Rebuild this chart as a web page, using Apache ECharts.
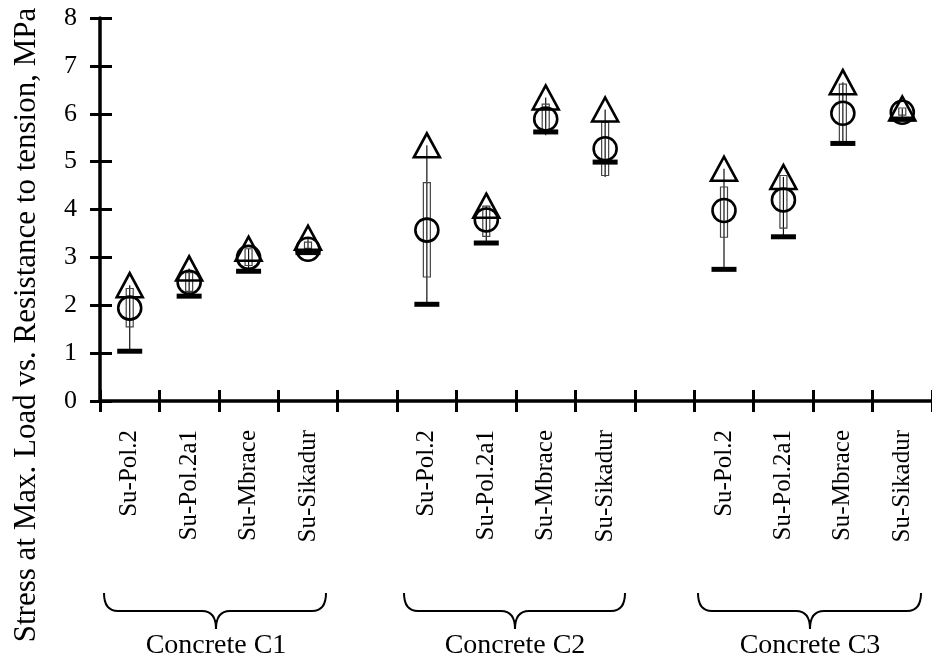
<!DOCTYPE html>
<html>
<head>
<meta charset="utf-8">
<script src="https://cdn.jsdelivr.net/npm/echarts@6/dist/echarts.min.js"></script>
<style>html,body{margin:0;padding:0;background:#fff;}#c{width:932px;height:665px;}</style>
</head>
<body>
<div id="c"></div>
<script>
// ---- data ----
const categories = ['Su-Pol.2','Su-Pol.2a1','Su-Mbrace','Su-Sikadur','',
                    'Su-Pol.2','Su-Pol.2a1','Su-Mbrace','Su-Sikadur','',
                    'Su-Pol.2','Su-Pol.2a1','Su-Mbrace','Su-Sikadur'];
const groupLabels = ['Concrete C1','Concrete C2','Concrete C3'];
const yTicks = [0,1,2,3,4,5,6,7,8];
// triangles: stress at max. load
const stressMaxLoad = [2.42, 2.77, 3.18, 3.41, null, 5.34, 4.08, 6.34, 6.09, null, 4.85, 4.68, 6.66, 6.11];
// circles: resistance to tension
const resistance    = [1.94, 2.48, 3.00, 3.17, null, 3.57, 3.78, 5.89, 5.27, null, 3.98, 4.20, 6.01, 6.03];
// thick horizontal dashes
const minMark       = [1.04, 2.19, 2.71, 3.10, null, 2.02, 3.30, 5.62, 4.99, null, 2.75, 3.43, 5.38, 5.89];
// narrow box
const boxLow        = [1.55, 2.29, 2.83, 3.19, null, 2.59, 3.44, 5.62, 4.71, null, 3.42, 3.61, 5.41, 5.97];
const boxHigh       = [2.35, 2.68, 3.18, 3.32, null, 4.56, 4.07, 6.20, 5.82, null, 4.47, 4.71, 6.62, 6.12];
// thin whisker line
const lineLow       = [1.04, 2.19, 2.71, 3.10, null, 2.02, 3.30, 5.55, 4.68, null, 2.75, 3.43, 5.38, 5.89];
const lineHigh      = [2.42, 2.77, 3.18, 3.41, null, 5.34, 4.08, 6.34, 6.09, null, 4.85, 4.68, 6.66, 6.11];

const FONT = '"Liberation Serif", "DejaVu Serif", serif';
const pairs = arr => arr.map((v,i)=> v==null?null:[i,v]).filter(d=>d);
const whiskerData = [];
categories.forEach((c,i)=>{ if(lineLow[i]!=null) whiskerData.push([i,lineLow[i],lineHigh[i],boxLow[i],boxHigh[i]]); });

const chart = echarts.init(document.getElementById('c'), null, {renderer:'canvas'});

const xAxisBase = {
  type:'category', data:categories, boundaryGap:true, gridIndex:0, position:'bottom'
};
const yAxisBase = {type:'value', min:0, max:8, interval:1, position:'left', splitLine:{show:false}};

function braceGraphic(x0,x1,xc,yTop,yMid,yPt){
  const r=14;
  const st = {fill:'none', stroke:'#000', lineWidth:2};
  return {type:'group', silent:true, children:[
    {type:'bezierCurve', shape:{x1:x0,y1:yTop,cpx1:x0,cpy1:yMid,x2:x0+r,y2:yMid}, style:st},
    {type:'line', shape:{x1:x0+r,y1:yMid,x2:xc-r,y2:yMid}, style:st},
    {type:'bezierCurve', shape:{x1:xc-r,y1:yMid,cpx1:xc,cpy1:yMid,x2:xc,y2:yPt}, style:st},
    {type:'bezierCurve', shape:{x1:xc,y1:yPt,cpx1:xc,cpy1:yMid,x2:xc+r,y2:yMid}, style:st},
    {type:'line', shape:{x1:xc+r,y1:yMid,x2:x1-r,y2:yMid}, style:st},
    {type:'bezierCurve', shape:{x1:x1-r,y1:yMid,cpx1:x1,cpy1:yMid,x2:x1,y2:yTop}, style:st}
  ]};
}
const braces = [[104,326,216],[404,625,515],[698,921,810]];

chart.setOption({
  animation:false,
  backgroundColor:'#fff',
  grid:{left:100, top:18, width:834, bottom:264, containLabel:false},
  xAxis:[
    Object.assign({}, xAxisBase, {
      axisLine:{show:true, lineStyle:{color:'#000', width:3.5}},
      axisTick:{show:true, interval:0, length:11, lineStyle:{color:'#000', width:3}},
      axisLabel:{show:true, interval:0, rotate:90, margin:29, color:'#000', fontFamily:FONT, fontSize:25}
    }),
    Object.assign({}, xAxisBase, {
      axisLine:{show:false},
      axisTick:{show:true, inside:true, interval:0, length:11, lineStyle:{color:'#000', width:3}},
      axisLabel:{show:false}
    })
  ],
  yAxis:[
    Object.assign({}, yAxisBase, {
      axisLine:{show:true, lineStyle:{color:'#000', width:3.5}},
      axisTick:{show:true, length:10, lineStyle:{color:'#000', width:3}},
      axisLabel:{show:true, margin:23, color:'#000', fontFamily:FONT, fontSize:26,
        formatter: v => yTicks.indexOf(v)>=0 ? String(v) : ''}
    }),
    Object.assign({}, yAxisBase, {
      axisLine:{show:false},
      axisTick:{show:true, inside:true, length:12, lineStyle:{color:'#000', width:3}},
      axisLabel:{show:false}
    })
  ],
  series:[
    {
      type:'custom', xAxisIndex:0, yAxisIndex:0, z:1, clip:false,
      encode:{x:0, y:[1,2,3,4]},
      data: whiskerData,
      renderItem:(params, api)=>{
        const i = api.value(0);
        const pLo = api.coord([i, api.value(1)]);
        const pHi = api.coord([i, api.value(2)]);
        const bLo = api.coord([i, api.value(3)]);
        const bHi = api.coord([i, api.value(4)]);
        const x = pLo[0], w = 7;
        return {type:'group', children:[
          {type:'line', shape:{x1:x, y1:pLo[1], x2:x, y2:pHi[1]}, style:{stroke:'#111', lineWidth:1.2}},
          {type:'rect', shape:{x:x-w/2, y:bHi[1], width:w, height:bLo[1]-bHi[1]},
           style:{fill:'rgba(255,255,255,0)', stroke:'#444', lineWidth:1.2}}
        ]};
      }
    },
    {
      type:'scatter', name:'Resistance to tension', xAxisIndex:0, yAxisIndex:0, z:2,
      data: pairs(resistance), symbol:'circle', symbolSize:23,
      itemStyle:{color:'rgba(255,255,255,0)', borderColor:'#000', borderWidth:2.6, opacity:1}
    },
    {
      type:'scatter', name:'Stress at Max. Load', xAxisIndex:0, yAxisIndex:0, z:3,
      data: pairs(stressMaxLoad), symbol:'triangle', symbolSize:[26,24],
      itemStyle:{color:'rgba(255,255,255,0)', borderColor:'#000', borderWidth:2.6, opacity:1}
    },
    {
      type:'scatter', name:'min', xAxisIndex:0, yAxisIndex:0, z:4,
      data: pairs(minMark), symbol:'rect', symbolSize:[25,5],
      itemStyle:{color:'#000', opacity:1}
    }
  ],
  graphic:[
    {type:'text', x:27, y:325, rotation:Math.PI/2,
     style:{text:'Stress at Max. Load vs. Resistance to tension, MPa', font:'31px '+FONT,
            fill:'#000', textAlign:'center', textVerticalAlign:'middle'}, silent:true},
    ...braces.map(b=>braceGraphic(b[0],b[1],b[2],593,611,629)),
    ...braces.map((b,k)=>({type:'text', x:b[2], y:646,
      style:{text:groupLabels[k], font:'28px '+FONT, fill:'#000', textAlign:'center', textVerticalAlign:'middle'}, silent:true}))
  ]
});
</script>
</body>
</html>
